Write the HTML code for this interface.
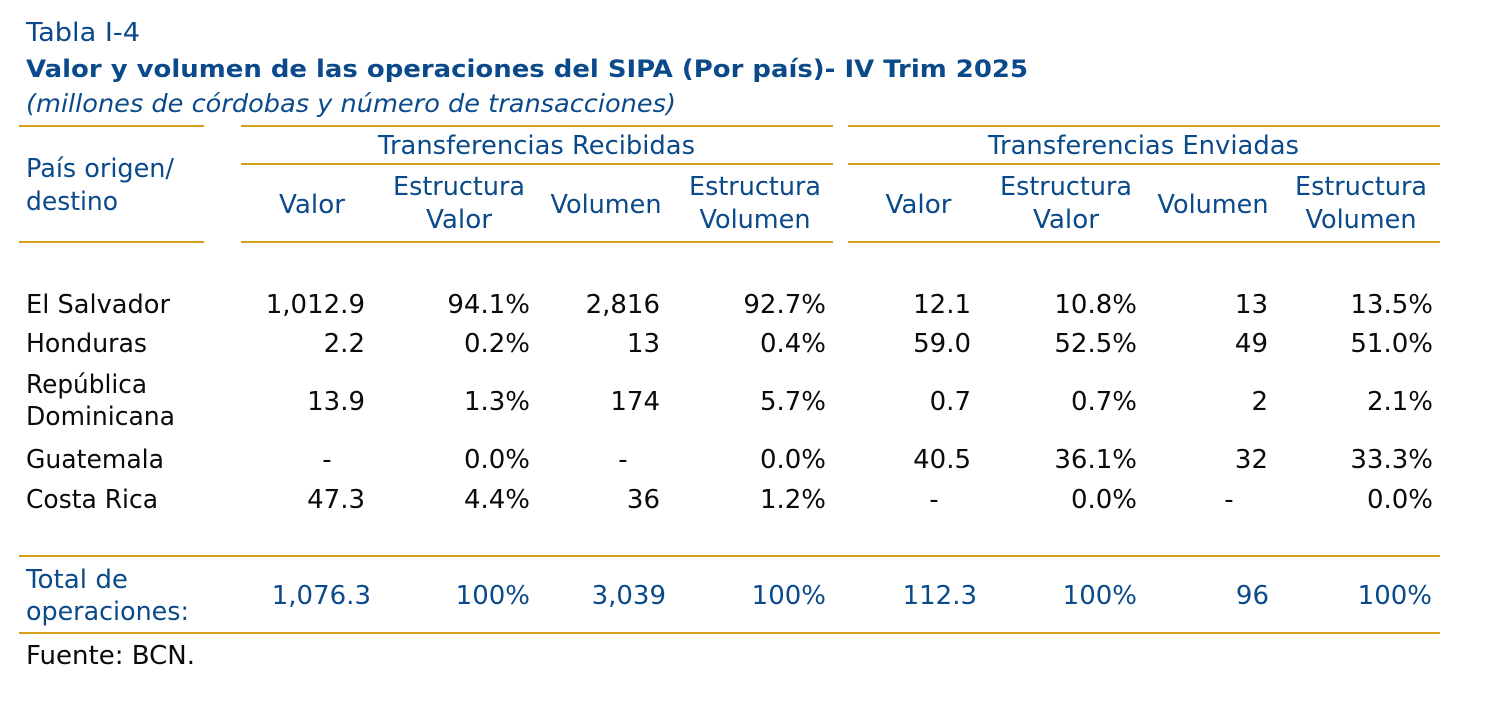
<!DOCTYPE html>
<html>
<head>
<meta charset="utf-8">
<style>
  html, body { margin: 0; padding: 0; background: #ffffff; }
  body { width: 1494px; height: 728px; overflow: hidden; }
  svg { display: block; }
  text { font-family: "DejaVu Sans", "Liberation Sans", sans-serif; font-size: 26px; }
  .b { fill: #0b4a8a; }
  .k { fill: #0a0a0a; }
  .r { text-anchor: end; }
  .m { text-anchor: middle; }
</style>
</head>
<body>
<svg width="1494" height="728" viewBox="0 0 1494 728" xmlns="http://www.w3.org/2000/svg">
  <!-- Titles -->
  <text class="b" x="26" y="41" style="font-size:26px" textLength="114" lengthAdjust="spacingAndGlyphs">Tabla I-4</text>
  <text class="b" x="26" y="77" style="font-size:24px;font-weight:bold" textLength="1002" lengthAdjust="spacingAndGlyphs">Valor y volumen de las operaciones del SIPA (Por país)- IV Trim 2025</text>
  <text class="b" x="26" y="112" style="font-size:25px;font-style:italic" textLength="650" lengthAdjust="spacingAndGlyphs">(millones de córdobas y número de transacciones)</text>

  <!-- Gold rules -->
  <g fill="#d4a017">
    <rect x="19" y="125" width="185" height="2"/>
    <rect x="241" y="125" width="592" height="2"/>
    <rect x="848" y="125" width="592" height="2"/>
    <rect x="241" y="163" width="592" height="2"/>
    <rect x="848" y="163" width="592" height="2"/>
    <rect x="19" y="241" width="185" height="2"/>
    <rect x="241" y="241" width="592" height="2"/>
    <rect x="848" y="241" width="592" height="2"/>
    <rect x="19" y="555" width="1421" height="2"/>
    <rect x="19" y="632" width="1421" height="2"/>
  </g>

  <!-- Header -->
  <text class="b m" x="536.5" y="154" textLength="317" lengthAdjust="spacingAndGlyphs">Transferencias Recibidas</text>
  <text class="b m" x="1143.5" y="154" textLength="311" lengthAdjust="spacingAndGlyphs">Transferencias Enviadas</text>
  <text class="b" x="26" y="177" textLength="148" lengthAdjust="spacingAndGlyphs">País origen/</text>
  <text class="b" x="26" y="210" textLength="92" lengthAdjust="spacingAndGlyphs">destino</text>

  <text class="b m" x="312" y="213" textLength="66" lengthAdjust="spacingAndGlyphs">Valor</text>
  <text class="b m" x="459" y="195" textLength="132" lengthAdjust="spacingAndGlyphs">Estructura</text>
  <text class="b m" x="459" y="228" textLength="66" lengthAdjust="spacingAndGlyphs">Valor</text>
  <text class="b m" x="606" y="213" textLength="111" lengthAdjust="spacingAndGlyphs">Volumen</text>
  <text class="b m" x="755" y="195" textLength="132" lengthAdjust="spacingAndGlyphs">Estructura</text>
  <text class="b m" x="755" y="228" textLength="111" lengthAdjust="spacingAndGlyphs">Volumen</text>

  <text class="b m" x="918.5" y="213" textLength="66" lengthAdjust="spacingAndGlyphs">Valor</text>
  <text class="b m" x="1066" y="195" textLength="132" lengthAdjust="spacingAndGlyphs">Estructura</text>
  <text class="b m" x="1066" y="228" textLength="66" lengthAdjust="spacingAndGlyphs">Valor</text>
  <text class="b m" x="1213" y="213" textLength="111" lengthAdjust="spacingAndGlyphs">Volumen</text>
  <text class="b m" x="1361" y="195" textLength="132" lengthAdjust="spacingAndGlyphs">Estructura</text>
  <text class="b m" x="1361" y="228" textLength="111" lengthAdjust="spacingAndGlyphs">Volumen</text>

  <!-- Row labels -->
  <text class="k" x="26" y="313" textLength="144" lengthAdjust="spacingAndGlyphs">El Salvador</text>
  <text class="k" x="26" y="352" textLength="121" lengthAdjust="spacingAndGlyphs">Honduras</text>
  <text class="k" x="26" y="393" textLength="121" lengthAdjust="spacingAndGlyphs">República</text>
  <text class="k" x="26" y="425" textLength="149" lengthAdjust="spacingAndGlyphs">Dominicana</text>
  <text class="k" x="26" y="468" textLength="138" lengthAdjust="spacingAndGlyphs">Guatemala</text>
  <text class="k" x="26" y="508" textLength="132" lengthAdjust="spacingAndGlyphs">Costa Rica</text>

  <!-- El Salvador -->
  <g class="k">
    <text class="r" x="365" y="313">1,012.9</text>
    <text class="r" x="530" y="313">94.1%</text>
    <text class="r" x="660" y="313">2,816</text>
    <text class="r" x="826" y="313">92.7%</text>
    <text class="r" x="971" y="313">12.1</text>
    <text class="r" x="1137" y="313">10.8%</text>
    <text class="r" x="1268" y="313">13</text>
    <text class="r" x="1433" y="313">13.5%</text>
  </g>
  <!-- Honduras -->
  <g class="k">
    <text class="r" x="365" y="352">2.2</text>
    <text class="r" x="530" y="352">0.2%</text>
    <text class="r" x="660" y="352">13</text>
    <text class="r" x="826" y="352">0.4%</text>
    <text class="r" x="971" y="352">59.0</text>
    <text class="r" x="1137" y="352">52.5%</text>
    <text class="r" x="1268" y="352">49</text>
    <text class="r" x="1433" y="352">51.0%</text>
  </g>
  <!-- República Dominicana -->
  <g class="k">
    <text class="r" x="365" y="410">13.9</text>
    <text class="r" x="530" y="410">1.3%</text>
    <text class="r" x="660" y="410">174</text>
    <text class="r" x="826" y="410">5.7%</text>
    <text class="r" x="971" y="410">0.7</text>
    <text class="r" x="1137" y="410">0.7%</text>
    <text class="r" x="1268" y="410">2</text>
    <text class="r" x="1433" y="410">2.1%</text>
  </g>
  <!-- Guatemala -->
  <g class="k">
    <text class="m" x="327" y="468">-</text>
    <text class="r" x="530" y="468">0.0%</text>
    <text class="m" x="623" y="468">-</text>
    <text class="r" x="826" y="468">0.0%</text>
    <text class="r" x="971" y="468">40.5</text>
    <text class="r" x="1137" y="468">36.1%</text>
    <text class="r" x="1268" y="468">32</text>
    <text class="r" x="1433" y="468">33.3%</text>
  </g>
  <!-- Costa Rica -->
  <g class="k">
    <text class="r" x="365" y="508">47.3</text>
    <text class="r" x="530" y="508">4.4%</text>
    <text class="r" x="660" y="508">36</text>
    <text class="r" x="826" y="508">1.2%</text>
    <text class="m" x="934" y="508">-</text>
    <text class="r" x="1137" y="508">0.0%</text>
    <text class="m" x="1229" y="508">-</text>
    <text class="r" x="1433" y="508">0.0%</text>
  </g>

  <!-- Totals -->
  <text class="b" x="26" y="588" textLength="102" lengthAdjust="spacingAndGlyphs">Total de</text>
  <text class="b" x="26" y="620" textLength="163" lengthAdjust="spacingAndGlyphs">operaciones:</text>
  <g class="b">
    <text class="r" x="371" y="604">1,076.3</text>
    <text class="r" x="530" y="604">100%</text>
    <text class="r" x="666" y="604">3,039</text>
    <text class="r" x="826" y="604">100%</text>
    <text class="r" x="977" y="604">112.3</text>
    <text class="r" x="1137" y="604">100%</text>
    <text class="r" x="1269" y="604">96</text>
    <text class="r" x="1432" y="604">100%</text>
  </g>

  <!-- Source -->
  <text class="k" x="26" y="664" textLength="169" lengthAdjust="spacingAndGlyphs">Fuente: BCN.</text>
</svg>
</body>
</html>
